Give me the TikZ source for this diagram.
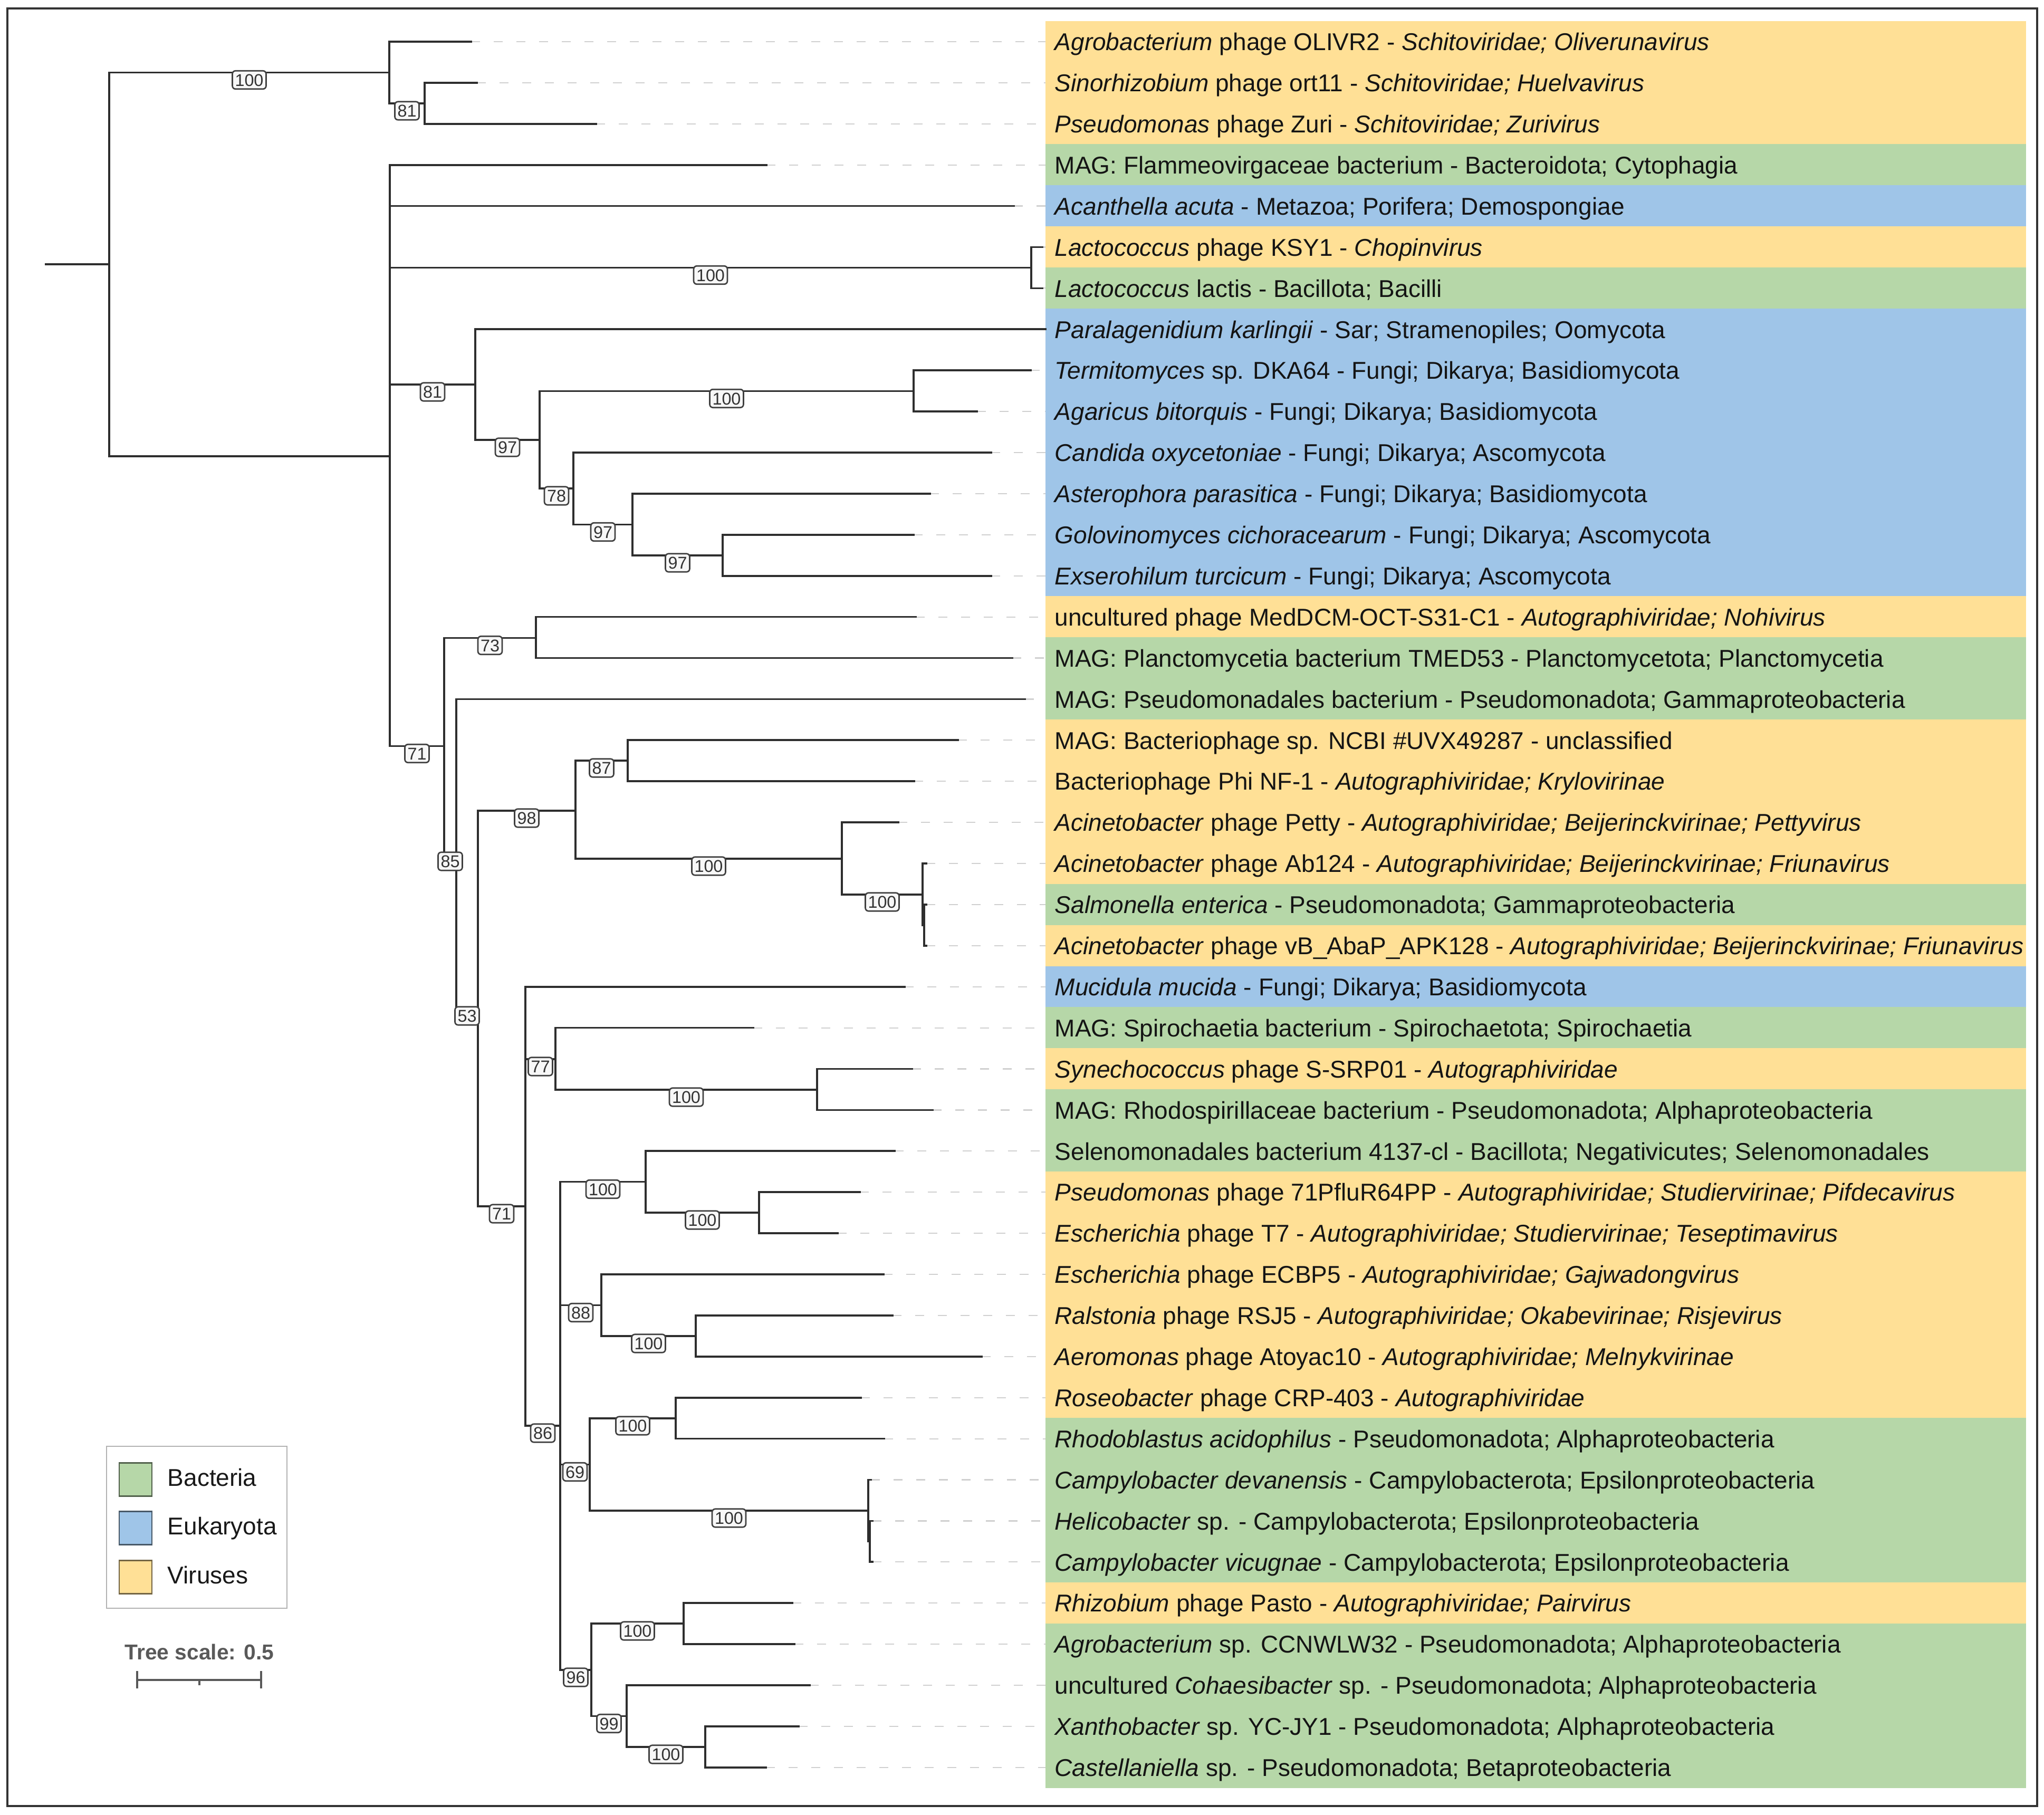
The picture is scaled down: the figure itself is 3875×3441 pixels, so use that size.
\documentclass[tikz,border=0pt]{standalone}
\usepackage{fontspec}
\setmainfont{Liberation Sans}
\usetikzlibrary{calc}
\newcommand{\rowy}[1]{79+77.9*#1}
\definecolor{virc}{HTML}{FFE096}
\definecolor{bacc}{HTML}{B6D7A8}
\definecolor{eukc}{HTML}{9FC5E8}
\definecolor{treec}{HTML}{2E2E2E}
\definecolor{dashc}{HTML}{D0D0D0}
\definecolor{framec}{HTML}{333333}
\begin{document}
\begin{tikzpicture}[x=0.1mm,y=-0.1mm,
  br/.style={draw=treec, line width=0.37mm, line cap=rect, line join=miter},
  dsh/.style={draw=dashc, line width=0.22mm, dash pattern=on 1.7mm off 2.6mm},
  rowbox/.style={anchor=west, minimum width=185.9mm, minimum height=7.84mm, inner sep=0pt, outer sep=0pt, draw=none},
  leaf/.style={anchor=west, inner sep=0pt, text height=3.35mm, text depth=0pt, font=\fontsize{13.1}{15}\selectfont, text=black!92},
  bs/.style={draw=black!75, fill=black!3, rounded corners=0.6mm, line width=0.27mm, inner xsep=0.5mm, inner ysep=0.55mm, text height=2.35mm, text depth=0pt, font=\fontsize{9.2}{9}\selectfont, text=black!80},
  swatch/.style={minimum width=6.2mm, minimum height=6.3mm, inner sep=0pt, line width=0.22mm},
  legtxt/.style={anchor=west, inner sep=0pt, text height=3.35mm, text depth=0pt, font=\fontsize{13.1}{15}\selectfont, text=black!90},
  scaletxt/.style={inner sep=0pt, font=\fontsize{11.6}{13}\selectfont\bfseries, text=black!65}
]
\useasboundingbox (0,0) rectangle (3875,3441);
\draw[draw=framec, line width=0.4mm] (14,16) rectangle (3862,3424);

% ---------- coloured rows ----------
\foreach \c [count=\i from 0] in {virc,virc,virc,bacc,eukc,virc,bacc,eukc,eukc,eukc,eukc,eukc,eukc,eukc,virc,bacc,bacc,virc,virc,virc,virc,bacc,virc,eukc,bacc,virc,bacc,bacc,virc,virc,virc,virc,virc,virc,bacc,bacc,bacc,bacc,virc,bacc,bacc,bacc,bacc}
  {\node[rowbox, fill=\c] (b\i) at (1982,{\rowy{\i}}) {};}

% ---------- tree coordinates ----------
\coordinate (R0) at (87,501);
\coordinate (N0) at (207,501);
\coordinate (NA) at (738,137.5);
\coordinate (N81a) at (805,196);
\coordinate (NB) at (739,864.75);
\coordinate (NLac) at (1955,507.5);
\coordinate (N81b) at (901,729);
\coordinate (N97a) at (1023,834);
\coordinate (N100a) at (1732,741.4);
\coordinate (N78) at (1087,926);
\coordinate (N97b) at (1199,994.5);
\coordinate (N97c) at (1370,1053);
\coordinate (N71a) at (842,1414.5);
\coordinate (N73) at (1016,1209.5);
\coordinate (N85) at (865,1619);
\coordinate (N53) at (906,1912);
\coordinate (N98) at (1091,1537);
\coordinate (N87) at (1190,1442);
\coordinate (N100b) at (1596,1628);
\coordinate (N100c) at (1749,1696);
\coordinate (NX) at (1752,1754);
\coordinate (N71b) at (996,2287);
\coordinate (N77) at (1053,2008);
\coordinate (N100d) at (1549,2066);
\coordinate (N86) at (1062,2703);
\coordinate (N100e) at (1224,2240.5);
\coordinate (N100f) at (1439,2299);
\coordinate (N88) at (1140,2474.5);
\coordinate (N100g) at (1319,2533);
\coordinate (N69) at (1118,2776.5);
\coordinate (N100h) at (1281,2689);
\coordinate (N100i) at (1646,2864);
\coordinate (NY) at (1649,2922);
\coordinate (N96) at (1121,3166);
\coordinate (N100j) at (1296,3078);
\coordinate (N99) at (1188,3253.5);
\coordinate (N100k) at (1337,3312);

% leaf tips
\coordinate (L0) at (893,{\rowy{0}});
\coordinate (L1) at (904,{\rowy{1}});
\coordinate (L2) at (1130,{\rowy{2}});
\coordinate (L3) at (1453,{\rowy{3}});
\coordinate (L4) at (1922,{\rowy{4}});
\coordinate (L5) at (1976,{\rowy{5}});
\coordinate (L6) at (1976,{\rowy{6}});
\coordinate (L8) at (1954,{\rowy{8}});
\coordinate (L9) at (1852,{\rowy{9}});
\coordinate (L10) at (1879,{\rowy{10}});
\coordinate (L11) at (1763,{\rowy{11}});
\coordinate (L12) at (1732,{\rowy{12}});
\coordinate (L13) at (1879,{\rowy{13}});
\coordinate (L14) at (1736,{\rowy{14}});
\coordinate (L15) at (1919,{\rowy{15}});
\coordinate (L16) at (1943,{\rowy{16}});
\coordinate (L17) at (1816,{\rowy{17}});
\coordinate (L18) at (1733,{\rowy{18}});
\coordinate (L19) at (1703,{\rowy{19}});
\coordinate (L20) at (1756,{\rowy{20}});
\coordinate (L21) at (1756,{\rowy{21}});
\coordinate (L22) at (1756,{\rowy{22}});
\coordinate (L23) at (1715,{\rowy{23}});
\coordinate (L24) at (1428,{\rowy{24}});
\coordinate (L25) at (1729,{\rowy{25}});
\coordinate (L26) at (1768,{\rowy{26}});
\coordinate (L27) at (1696,{\rowy{27}});
\coordinate (L28) at (1630,{\rowy{28}});
\coordinate (L29) at (1588,{\rowy{29}});
\coordinate (L30) at (1675,{\rowy{30}});
\coordinate (L31) at (1692,{\rowy{31}});
\coordinate (L32) at (1861,{\rowy{32}});
\coordinate (L33) at (1632,{\rowy{33}});
\coordinate (L34) at (1676,{\rowy{34}});
\coordinate (L35) at (1651,{\rowy{35}});
\coordinate (L36) at (1654,{\rowy{36}});
\coordinate (L37) at (1654,{\rowy{37}});
\coordinate (L38) at (1502,{\rowy{38}});
\coordinate (L39) at (1506,{\rowy{39}});
\coordinate (L40) at (1535,{\rowy{40}});
\coordinate (L41) at (1514,{\rowy{41}});
\coordinate (L42) at (1452,{\rowy{42}});

% ---------- dashed leaders ----------
\foreach \i in {0,1,2,3,4,5,6,8,9,10,11,12,13,14,15,16,17,18,19,20,21,22,23,24,25,26,27,28,29,30,31,32,33,34,35,36,37,38,39,40,41,42}
  {\draw[dsh] (L\i) -- (b\i.west);}

% ---------- branches ----------
\draw[br] (R0) -- (N0);
\draw[br] (N0) |- (NA);
\draw[br] (N0) |- (NB);
\draw[br] (NA) |- (L0);
\draw[br] (NA) |- (N81a);
\draw[br] (N81a) |- (L1);
\draw[br] (N81a) |- (L2);
\draw[br] (NB) |- (L3);
\draw[br] (NB) |- (L4);
\draw[br] (NB) |- (NLac);
\draw[br] (NB) |- (N81b);
\draw[br] (NB) |- (N71a);
\draw[br] (NLac) |- (L5);
\draw[br] (NLac) |- (L6);
\draw[br] (N81b) |- (b7.west);
\draw[br] (N81b) |- (N97a);
\draw[br] (N97a) |- (N100a);
\draw[br] (N97a) |- (N78);
\draw[br] (N100a) |- (L8);
\draw[br] (N100a) |- (L9);
\draw[br] (N78) |- (L10);
\draw[br] (N78) |- (N97b);
\draw[br] (N97b) |- (L11);
\draw[br] (N97b) |- (N97c);
\draw[br] (N97c) |- (L12);
\draw[br] (N97c) |- (L13);
\draw[br] (N71a) |- (N73);
\draw[br] (N71a) |- (N85);
\draw[br] (N73) |- (L14);
\draw[br] (N73) |- (L15);
\draw[br] (N85) |- (L16);
\draw[br] (N85) |- (N53);
\draw[br] (N53) |- (N98);
\draw[br] (N53) |- (N71b);
\draw[br] (N98) |- (N87);
\draw[br] (N98) |- (N100b);
\draw[br] (N87) |- (L17);
\draw[br] (N87) |- (L18);
\draw[br] (N100b) |- (L19);
\draw[br] (N100b) |- (N100c);
\draw[br] (N100c) |- (L20);
\draw[br] (N100c) |- (NX);
\draw[br] (NX) |- (L21);
\draw[br] (NX) |- (L22);
\draw[br] (N71b) |- (L23);
\draw[br] (N71b) |- (N77);
\draw[br] (N71b) |- (N86);
\draw[br] (N77) |- (L24);
\draw[br] (N77) |- (N100d);
\draw[br] (N100d) |- (L25);
\draw[br] (N100d) |- (L26);
\draw[br] (N86) |- (N100e);
\draw[br] (N86) |- (N88);
\draw[br] (N86) |- (N69);
\draw[br] (N86) |- (N96);
\draw[br] (N100e) |- (L27);
\draw[br] (N100e) |- (N100f);
\draw[br] (N100f) |- (L28);
\draw[br] (N100f) |- (L29);
\draw[br] (N88) |- (L30);
\draw[br] (N88) |- (N100g);
\draw[br] (N100g) |- (L31);
\draw[br] (N100g) |- (L32);
\draw[br] (N69) |- (N100h);
\draw[br] (N69) |- (N100i);
\draw[br] (N100h) |- (L33);
\draw[br] (N100h) |- (L34);
\draw[br] (N100i) |- (L35);
\draw[br] (N100i) |- (NY);
\draw[br] (NY) |- (L36);
\draw[br] (NY) |- (L37);
\draw[br] (N96) |- (N100j);
\draw[br] (N96) |- (N99);
\draw[br] (N100j) |- (L38);
\draw[br] (N100j) |- (L39);
\draw[br] (N99) |- (L40);
\draw[br] (N99) |- (N100k);
\draw[br] (N100k) |- (L41);
\draw[br] (N100k) |- (L42);

% ---------- bootstrap labels ----------
\node[bs] (lb0) at (472.5,151.5) {100};
\node[bs] (lb1) at (771.5,210) {81};
\node[bs] (lb2) at (1347,521.5) {100};
\node[bs] (lb3) at (820,743) {81};
\node[bs] (lb4) at (962,848) {97};
\node[bs] (lb5) at (1377.5,755.4) {100};
\node[bs] (lb6) at (1055,940) {78};
\node[bs] (lb7) at (1143,1008.5) {97};
\node[bs] (lb8) at (1284.5,1067) {97};
\node[bs] (lb9) at (790.5,1428.5) {71};
\node[bs] (lb10) at (929,1223.5) {73};
\node[bs] (lb11) at (853.5,1633) {85};
\node[bs] (lb12) at (885.5,1926) {53};
\node[bs] (lb13) at (998.5,1551) {98};
\node[bs] (lb14) at (1140.5,1456) {87};
\node[bs] (lb15) at (1343.5,1642) {100};
\node[bs] (lb16) at (1672.5,1710) {100};
\node[bs] (lb17) at (951,2301) {71};
\node[bs] (lb18) at (1024.5,2022) {77};
\node[bs] (lb19) at (1301,2080) {100};
\node[bs] (lb20) at (1029,2717) {86};
\node[bs] (lb21) at (1143,2254.5) {100};
\node[bs] (lb22) at (1331.5,2313) {100};
\node[bs] (lb23) at (1101,2488.5) {88};
\node[bs] (lb24) at (1229.5,2547) {100};
\node[bs] (lb25) at (1090,2790.5) {69};
\node[bs] (lb26) at (1199.5,2703) {100};
\node[bs] (lb27) at (1382,2878) {100};
\node[bs] (lb28) at (1091.5,3180) {96};
\node[bs] (lb29) at (1208.5,3092) {100};
\node[bs] (lb30) at (1154.5,3267.5) {99};
\node[bs] (lb31) at (1262.5,3326) {100};

% ---------- leaf texts ----------
\node[leaf] (t0) at (1999,{\rowy{0}}) {\textit{Agrobacterium} phage OLIVR2 - \textit{Schitoviridae; Oliverunavirus}};
\node[leaf] (t1) at (1999,{\rowy{1}}) {\textit{Sinorhizobium} phage ort11 - \textit{Schitoviridae; Huelvavirus}};
\node[leaf] (t2) at (1999,{\rowy{2}}) {\textit{Pseudomonas} phage Zuri - \textit{Schitoviridae; Zurivirus}};
\node[leaf] (t3) at (1999,{\rowy{3}}) {MAG: Flammeovirgaceae bacterium - Bacteroidota; Cytophagia};
\node[leaf] (t4) at (1999,{\rowy{4}}) {\textit{Acanthella acuta} - Metazoa; Porifera; Demospongiae};
\node[leaf] (t5) at (1999,{\rowy{5}}) {\textit{Lactococcus} phage KSY1 - \textit{Chopinvirus}};
\node[leaf] (t6) at (1999,{\rowy{6}}) {\textit{Lactococcus} lactis - Bacillota; Bacilli};
\node[leaf] (t7) at (1999,{\rowy{7}}) {\textit{Paralagenidium karlingii} - Sar; Stramenopiles; Oomycota};
\node[leaf] (t8) at (1999,{\rowy{8}}) {\textit{Termitomyces} sp. DKA64 - Fungi; Dikarya; Basidiomycota};
\node[leaf] (t9) at (1999,{\rowy{9}}) {\textit{Agaricus bitorquis} - Fungi; Dikarya; Basidiomycota};
\node[leaf] (t10) at (1999,{\rowy{10}}) {\textit{Candida oxycetoniae} - Fungi; Dikarya; Ascomycota};
\node[leaf] (t11) at (1999,{\rowy{11}}) {\textit{Asterophora parasitica} - Fungi; Dikarya; Basidiomycota};
\node[leaf] (t12) at (1999,{\rowy{12}}) {\textit{Golovinomyces cichoracearum} - Fungi; Dikarya; Ascomycota};
\node[leaf] (t13) at (1999,{\rowy{13}}) {\textit{Exserohilum turcicum} - Fungi; Dikarya; Ascomycota};
\node[leaf] (t14) at (1999,{\rowy{14}}) {uncultured phage MedDCM-OCT-S31-C1 - \textit{Autographiviridae; Nohivirus}};
\node[leaf] (t15) at (1999,{\rowy{15}}) {MAG: Planctomycetia bacterium TMED53 - Planctomycetota; Planctomycetia};
\node[leaf] (t16) at (1999,{\rowy{16}}) {MAG: Pseudomonadales bacterium - Pseudomonadota; Gammaproteobacteria};
\node[leaf] (t17) at (1999,{\rowy{17}}) {MAG: Bacteriophage sp. NCBI \#UVX49287 - unclassified};
\node[leaf] (t18) at (1999,{\rowy{18}}) {Bacteriophage Phi NF-1 - \textit{Autographiviridae; Krylovirinae}};
\node[leaf] (t19) at (1999,{\rowy{19}}) {\textit{Acinetobacter} phage Petty - \textit{Autographiviridae; Beijerinckvirinae; Pettyvirus}};
\node[leaf] (t20) at (1999,{\rowy{20}}) {\textit{Acinetobacter} phage Ab124 - \textit{Autographiviridae; Beijerinckvirinae; Friunavirus}};
\node[leaf] (t21) at (1999,{\rowy{21}}) {\textit{Salmonella enterica} - Pseudomonadota; Gammaproteobacteria};
\node[leaf] (t22) at (1999,{\rowy{22}}) {\textit{Acinetobacter} phage vB\_AbaP\_APK128 - \textit{Autographiviridae; Beijerinckvirinae; Friunavirus}};
\node[leaf] (t23) at (1999,{\rowy{23}}) {\textit{Mucidula mucida} - Fungi; Dikarya; Basidiomycota};
\node[leaf] (t24) at (1999,{\rowy{24}}) {MAG: Spirochaetia bacterium - Spirochaetota; Spirochaetia};
\node[leaf] (t25) at (1999,{\rowy{25}}) {\textit{Synechococcus} phage S-SRP01 - \textit{Autographiviridae}};
\node[leaf] (t26) at (1999,{\rowy{26}}) {MAG: Rhodospirillaceae bacterium - Pseudomonadota; Alphaproteobacteria};
\node[leaf] (t27) at (1999,{\rowy{27}}) {Selenomonadales bacterium 4137-cl - Bacillota; Negativicutes; Selenomonadales};
\node[leaf] (t28) at (1999,{\rowy{28}}) {\textit{Pseudomonas} phage 71PfluR64PP - \textit{Autographiviridae; Studiervirinae; Pifdecavirus}};
\node[leaf] (t29) at (1999,{\rowy{29}}) {\textit{Escherichia} phage T7 - \textit{Autographiviridae; Studiervirinae; Teseptimavirus}};
\node[leaf] (t30) at (1999,{\rowy{30}}) {\textit{Escherichia} phage ECBP5 - \textit{Autographiviridae; Gajwadongvirus}};
\node[leaf] (t31) at (1999,{\rowy{31}}) {\textit{Ralstonia} phage RSJ5 - \textit{Autographiviridae; Okabevirinae; Risjevirus}};
\node[leaf] (t32) at (1999,{\rowy{32}}) {\textit{Aeromonas} phage Atoyac10 - \textit{Autographiviridae; Melnykvirinae}};
\node[leaf] (t33) at (1999,{\rowy{33}}) {\textit{Roseobacter} phage CRP-403 - \textit{Autographiviridae}};
\node[leaf] (t34) at (1999,{\rowy{34}}) {\textit{Rhodoblastus acidophilus} - Pseudomonadota; Alphaproteobacteria};
\node[leaf] (t35) at (1999,{\rowy{35}}) {\textit{Campylobacter devanensis} - Campylobacterota; Epsilonproteobacteria};
\node[leaf] (t36) at (1999,{\rowy{36}}) {\textit{Helicobacter} sp. - Campylobacterota; Epsilonproteobacteria};
\node[leaf] (t37) at (1999,{\rowy{37}}) {\textit{Campylobacter vicugnae} - Campylobacterota; Epsilonproteobacteria};
\node[leaf] (t38) at (1999,{\rowy{38}}) {\textit{Rhizobium} phage Pasto - \textit{Autographiviridae; Pairvirus}};
\node[leaf] (t39) at (1999,{\rowy{39}}) {\textit{Agrobacterium} sp. CCNWLW32 - Pseudomonadota; Alphaproteobacteria};
\node[leaf] (t40) at (1999,{\rowy{40}}) {uncultured \textit{Cohaesibacter} sp. - Pseudomonadota; Alphaproteobacteria};
\node[leaf] (t41) at (1999,{\rowy{41}}) {\textit{Xanthobacter} sp. YC-JY1 - Pseudomonadota; Alphaproteobacteria};
\node[leaf] (t42) at (1999,{\rowy{42}}) {\textit{Castellaniella} sp. - Pseudomonadota; Betaproteobacteria};

% ---------- legend ----------
\draw[draw=black!30, line width=0.25mm] (202,2742) rectangle (544,3049);
\node[swatch, fill=bacc, draw=bacc!45!black] (sw1) at (257,2805) {};
\node[swatch, fill=eukc, draw=eukc!45!black] (sw2) at (257,2897) {};
\node[swatch, fill=virc, draw=virc!45!black] (sw3) at (257,2990) {};
\node[legtxt] (lt1) at (317,2801) {Bacteria};
\node[legtxt] (lt2) at (317,2893) {Eukaryota};
\node[legtxt] (lt3) at (317,2986) {Viruses};

% ---------- tree scale ----------
\node[scaletxt] (st) at (378,3132) {Tree scale: 0.5};
\draw[draw=black!65, line width=0.4mm] (260,3185) -- (495,3185);
\draw[draw=black!65, line width=0.4mm] (260,3168) -- (260,3201);
\draw[draw=black!65, line width=0.4mm] (495,3168) -- (495,3201);
\draw[draw=black!65, line width=0.4mm] (377.5,3185) -- (377.5,3195);
\end{tikzpicture}
\end{document}
